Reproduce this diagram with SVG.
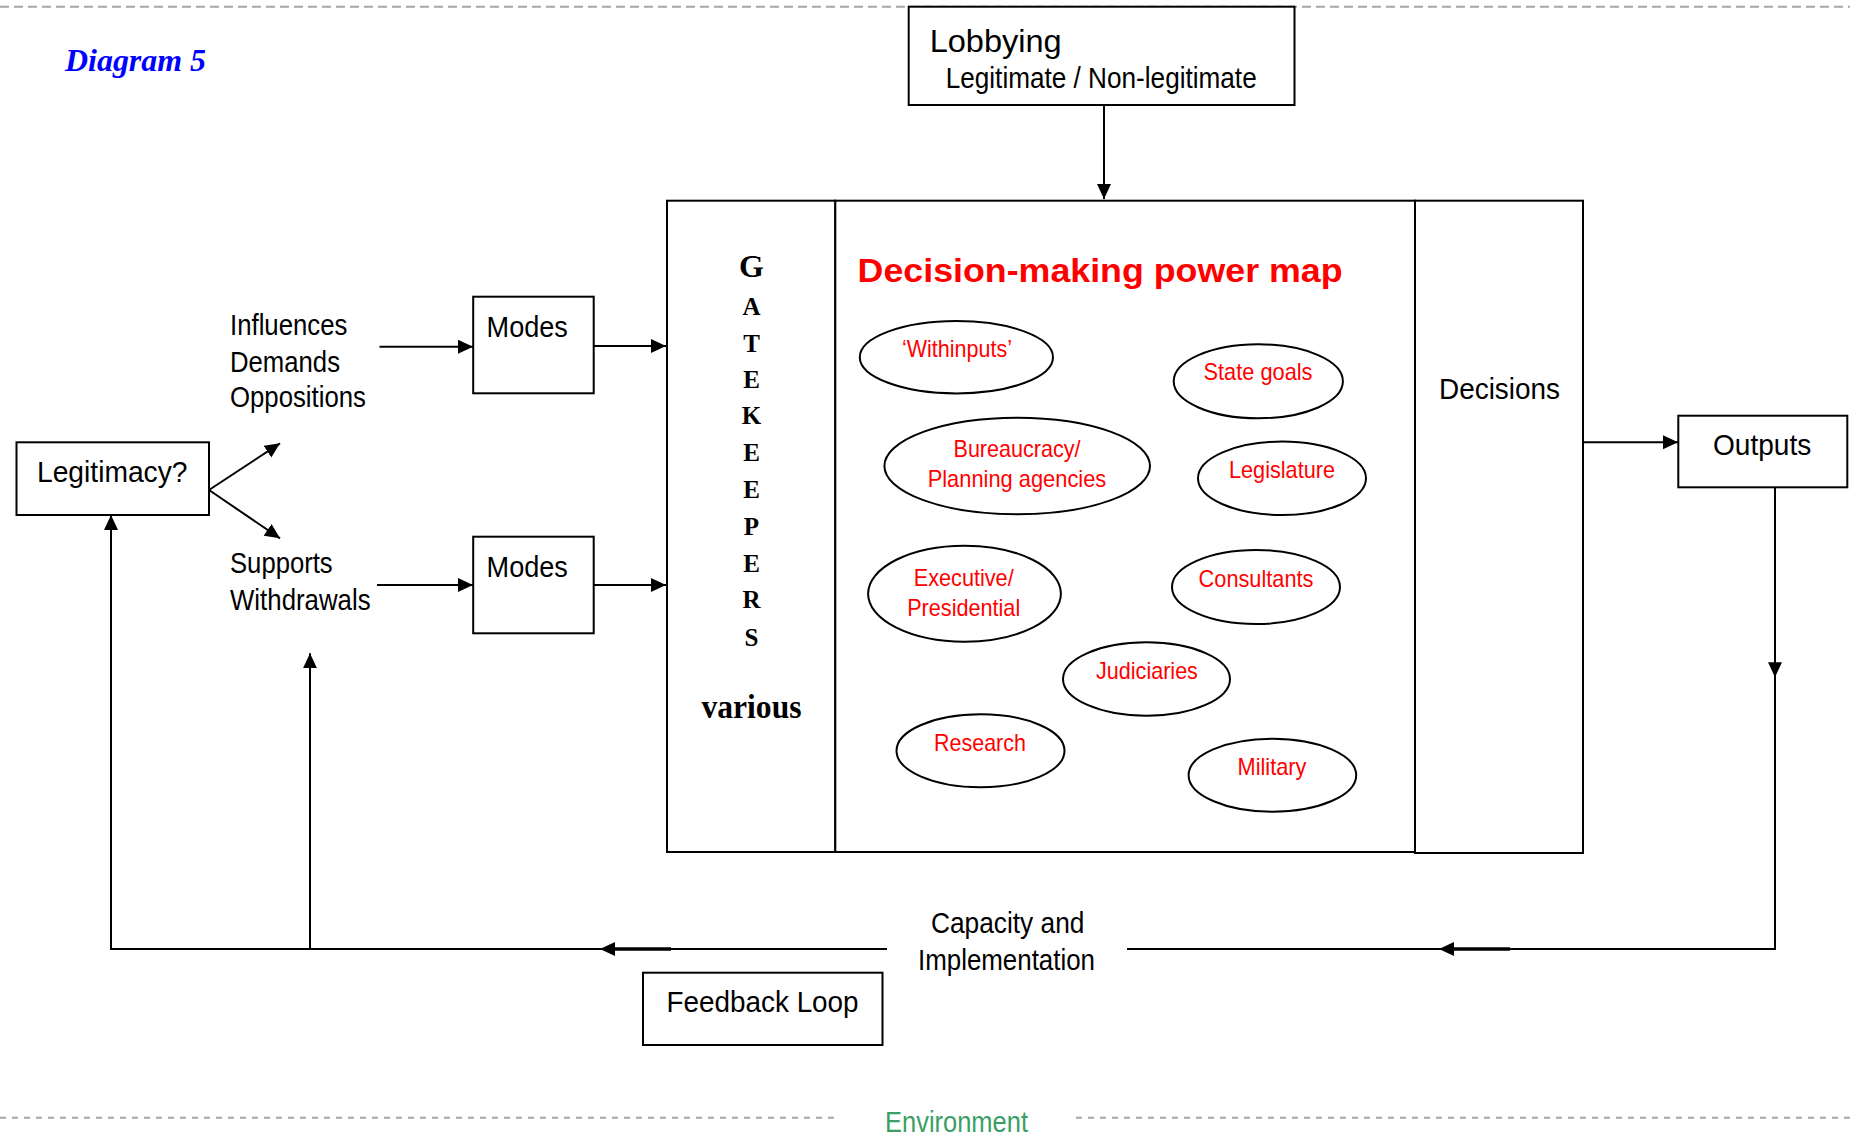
<svg xmlns="http://www.w3.org/2000/svg" width="1850" height="1137" viewBox="0 0 1850 1137">
<style>
.box{fill:#fff;stroke:#000;stroke-width:2}
.ell{fill:#fff;stroke:#000;stroke-width:2}
.ln{fill:none;stroke:#000;stroke-width:2}
.t{font-family:"Liberation Sans",Arial,sans-serif;font-size:30px;fill:#000}
.r{font-family:"Liberation Sans",Arial,sans-serif;font-size:24px;fill:#ff0000;text-anchor:middle}
.g{font-family:"Liberation Serif","Times New Roman",serif;font-weight:bold;font-size:25px;fill:#000;text-anchor:middle}
.env{fill:none;stroke:#a6a6a6;stroke-width:2}
</style>
<defs>
<marker id="ah" markerUnits="userSpaceOnUse" markerWidth="16" markerHeight="15" refX="15" refY="7" orient="auto">
<path d="M0,0 L15,7 L0,14 z" fill="#000"/>
</marker>
</defs>

<g id="environment">
<line class="env" x1="0" y1="6.7" x2="1850" y2="6.7" stroke-dasharray="9 5"/>
<line class="env" x1="0" y1="1117.7" x2="835" y2="1117.7" stroke-dasharray="6 6"/>
<line class="env" x1="1076" y1="1117.7" x2="1850" y2="1117.7" stroke-dasharray="6 6"/>
<text x="885" y="1132.3" font-family="Liberation Sans, Arial, sans-serif" font-size="30" fill="#3a9f64" textLength="143" lengthAdjust="spacingAndGlyphs">Environment</text>
</g>

<g id="title">
<text x="65" y="71" font-family="Liberation Serif, Times New Roman, serif" font-weight="bold" font-style="italic" font-size="32" fill="#0000ff" textLength="141" lengthAdjust="spacingAndGlyphs">Diagram 5</text>
</g>

<g id="connectors">
<line class="ln" x1="1104" y1="105" x2="1104" y2="199" marker-end="url(#ah)"/>
<line class="ln" x1="379.5" y1="346.7" x2="473" y2="346.7" marker-end="url(#ah)"/>
<line class="ln" x1="594" y1="346" x2="666" y2="346" marker-end="url(#ah)"/>
<line class="ln" x1="377" y1="585" x2="473" y2="585" marker-end="url(#ah)"/>
<line class="ln" x1="594" y1="585" x2="666" y2="585" marker-end="url(#ah)"/>
<line class="ln" x1="209" y1="490" x2="280" y2="443.3" marker-end="url(#ah)"/>
<line class="ln" x1="209" y1="490" x2="280" y2="538.3" marker-end="url(#ah)"/>
<line class="ln" x1="1583" y1="442.3" x2="1678" y2="442.3" marker-end="url(#ah)"/>
<line class="ln" x1="1775" y1="487" x2="1775" y2="677.3" marker-end="url(#ah)"/>
<polyline class="ln" points="1775,670 1775,949 1439,949"/>
<line class="ln" x1="1775" y1="949" x2="1439" y2="949" marker-end="url(#ah)"/>
<line class="ln" x1="1445" y1="949" x2="1127" y2="949"/>
<line x1="1452" y1="949" x2="1510" y2="949" stroke="#000" stroke-width="3.5"/>
<line class="ln" x1="887" y1="949" x2="600" y2="949" marker-end="url(#ah)"/>
<line x1="613" y1="949" x2="671" y2="949" stroke="#000" stroke-width="3.5"/>
<polyline class="ln" points="606,949 111,949 111,516"/>
<line class="ln" x1="111" y1="600" x2="111" y2="515" marker-end="url(#ah)"/>
<line class="ln" x1="310" y1="949" x2="310" y2="653.3" marker-end="url(#ah)"/>
</g>

<g id="lobbying">
<rect class="box" x="908.7" y="6.7" width="385.8" height="98.3"/>
<text class="t" x="929.7" y="51.7" style="font-size:32px" textLength="132" lengthAdjust="spacingAndGlyphs">Lobbying</text>
<text class="t" x="945.7" y="88" style="font-size:29px" textLength="311" lengthAdjust="spacingAndGlyphs">Legitimate / Non-legitimate</text>
</g>

<g id="legitimacy">
<rect class="box" x="16.5" y="442.3" width="192.5" height="72.7"/>
<text class="t" x="37" y="481.7" textLength="150.5" lengthAdjust="spacingAndGlyphs">Legitimacy?</text>
</g>

<g id="inputs-top">
<text class="t" x="230" y="335" textLength="117.4" lengthAdjust="spacingAndGlyphs">Influences</text>
<text class="t" x="230" y="371.7" textLength="110" lengthAdjust="spacingAndGlyphs">Demands</text>
<text class="t" x="230" y="406.7" textLength="136" lengthAdjust="spacingAndGlyphs">Oppositions</text>
</g>
<g id="inputs-bottom">
<text class="t" x="230" y="573.3" textLength="102.7" lengthAdjust="spacingAndGlyphs">Supports</text>
<text class="t" x="230" y="610" textLength="140.6" lengthAdjust="spacingAndGlyphs">Withdrawals</text>
</g>

<g id="modes-top">
<rect class="box" x="473.2" y="296.7" width="120.5" height="96.6"/>
<text class="t" x="486.6" y="336.7" textLength="81.3" lengthAdjust="spacingAndGlyphs">Modes</text>
</g>
<g id="modes-bottom">
<rect class="box" x="473.2" y="536.7" width="120.5" height="96.6"/>
<text class="t" x="486.6" y="576.7" textLength="81.3" lengthAdjust="spacingAndGlyphs">Modes</text>
</g>

<g id="gatekeepers">
<rect class="box" x="667" y="200.7" width="168.3" height="651.3"/>
<text class="g" x="751.5" y="277.3" style="font-size:32px">G</text>
<text class="g" x="751.5" y="315">A</text>
<text class="g" x="751.5" y="351.7">T</text>
<text class="g" x="751.5" y="387.5">E</text>
<text class="g" x="751.5" y="424">K</text>
<text class="g" x="751.5" y="461">E</text>
<text class="g" x="751.5" y="497.7">E</text>
<text class="g" x="751.5" y="535">P</text>
<text class="g" x="751.5" y="571.7">E</text>
<text class="g" x="751.5" y="608.3">R</text>
<text class="g" x="751.5" y="645.5">S</text>
<text class="g" x="751.5" y="718" style="font-size:33px" textLength="100" lengthAdjust="spacingAndGlyphs">various</text>
</g>

<g id="power-map">
<rect class="box" x="835.3" y="200.7" width="579.7" height="651.3"/>
<text x="857.6" y="281.7" font-family="Liberation Sans, Arial, sans-serif" font-weight="bold" font-size="34" fill="#ff0000" textLength="485" lengthAdjust="spacingAndGlyphs">Decision-making power map</text>
</g>

<g id="withinputs">
<ellipse class="ell" cx="956.4" cy="357.2" rx="96.6" ry="36.2"/>
<text class="r" x="957" y="356.7" textLength="110" lengthAdjust="spacingAndGlyphs">‘Withinputs’</text>
</g>
<g id="state-goals">
<ellipse class="ell" cx="1258.3" cy="381.3" rx="84.6" ry="37"/>
<text class="r" x="1258" y="380" textLength="109" lengthAdjust="spacingAndGlyphs">State goals</text>
</g>
<g id="bureaucracy">
<ellipse class="ell" cx="1017.2" cy="466" rx="132.8" ry="48.3"/>
<text class="r" x="1017" y="456.7" textLength="127" lengthAdjust="spacingAndGlyphs">Bureaucracy/</text>
<text class="r" x="1017" y="486.7" textLength="178.6" lengthAdjust="spacingAndGlyphs">Planning agencies</text>
</g>
<g id="legislature">
<ellipse class="ell" cx="1282" cy="478.3" rx="84" ry="36.7"/>
<text class="r" x="1282" y="478.3" textLength="106" lengthAdjust="spacingAndGlyphs">Legislature</text>
</g>
<g id="executive">
<ellipse class="ell" cx="964.5" cy="593.7" rx="96.4" ry="48"/>
<text class="r" x="963.7" y="586" textLength="100" lengthAdjust="spacingAndGlyphs">Executive/</text>
<text class="r" x="963.7" y="616" textLength="113" lengthAdjust="spacingAndGlyphs">Presidential</text>
</g>
<g id="consultants">
<ellipse class="ell" cx="1256" cy="587" rx="84" ry="37"/>
<text class="r" x="1256" y="587.3" textLength="114.8" lengthAdjust="spacingAndGlyphs">Consultants</text>
</g>
<g id="judiciaries">
<ellipse class="ell" cx="1146.5" cy="679" rx="83.5" ry="36.7"/>
<text class="r" x="1147" y="679" textLength="101.8" lengthAdjust="spacingAndGlyphs">Judiciaries</text>
</g>
<g id="research">
<ellipse class="ell" cx="980.5" cy="750.8" rx="84" ry="36.5"/>
<text class="r" x="980" y="750.7" textLength="91.8" lengthAdjust="spacingAndGlyphs">Research</text>
</g>
<g id="military">
<ellipse class="ell" cx="1272.4" cy="775.2" rx="83.8" ry="36.5"/>
<text class="r" x="1272" y="775" textLength="68.9" lengthAdjust="spacingAndGlyphs">Military</text>
</g>

<g id="decisions">
<rect class="box" x="1415" y="200.7" width="168" height="652.3"/>
<text class="t" x="1439" y="399" textLength="121" lengthAdjust="spacingAndGlyphs">Decisions</text>
</g>

<g id="outputs">
<rect class="box" x="1678.3" y="415.7" width="169" height="71.6"/>
<text class="t" x="1713" y="455" textLength="98.3" lengthAdjust="spacingAndGlyphs">Outputs</text>
</g>

<g id="capacity">
<text class="t" x="931" y="933.3" textLength="153.4" lengthAdjust="spacingAndGlyphs">Capacity and</text>
<text class="t" x="918" y="970" textLength="177" lengthAdjust="spacingAndGlyphs">Implementation</text>
</g>

<g id="feedback-loop">
<rect class="box" x="643" y="972.7" width="239.5" height="72.3"/>
<text class="t" x="666.6" y="1012.3" textLength="192" lengthAdjust="spacingAndGlyphs">Feedback Loop</text>
</g>
</svg>
